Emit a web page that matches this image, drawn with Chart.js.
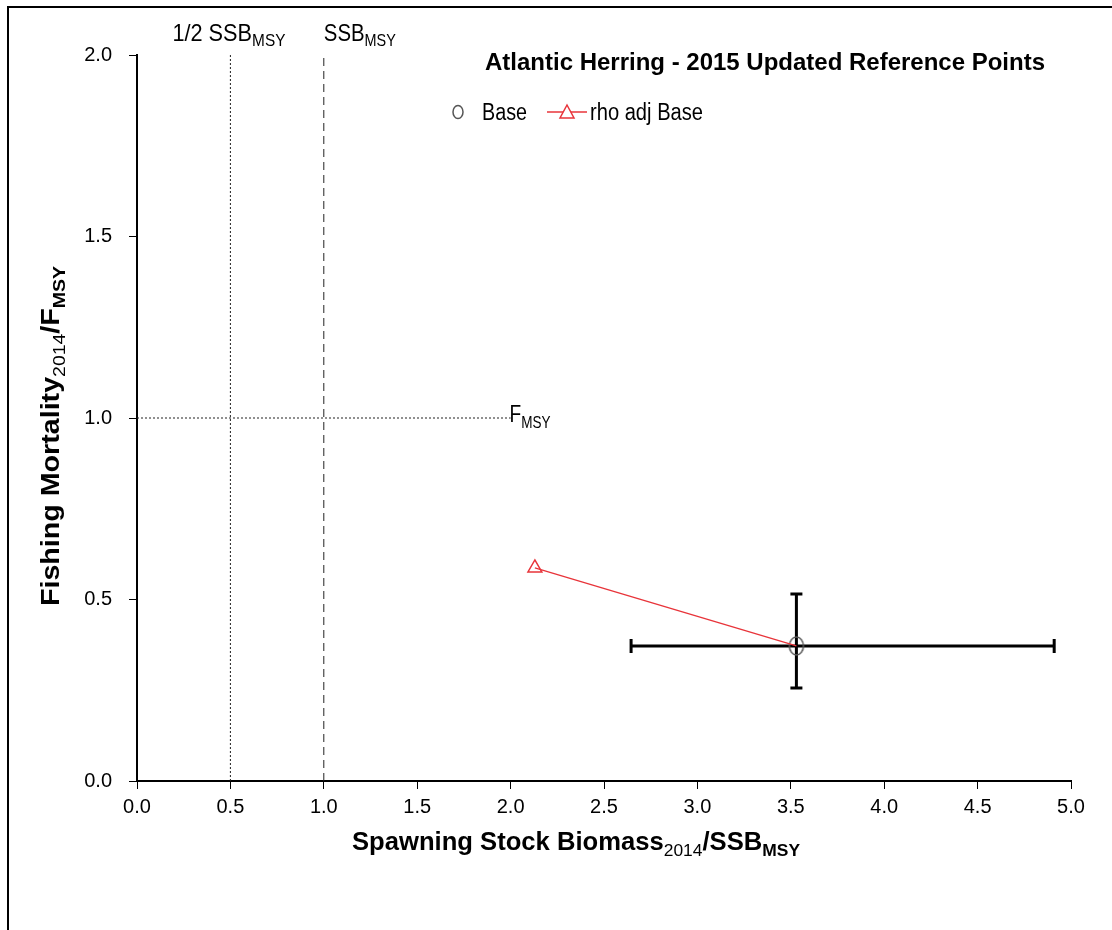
<!DOCTYPE html>
<html>
<head>
<meta charset="utf-8">
<script src="https://cdn.jsdelivr.net/npm/chart.js@4.4.0/dist/chart.umd.min.js"></script>
<style>
  html, body { margin: 0; padding: 0; background: #fff; }
  #wrap { width: 1112px; height: 930px; }
</style>
</head>
<body>
<div id="wrap"><canvas id="c" width="1112" height="930"></canvas></div>
<script>
// --- data ---
const baseSSB = [3.53];
const baseF = [0.372];
const baseSSBLow = [2.645];
const baseSSBHigh = [4.91];
const baseFLow = [0.256];
const baseFHigh = [0.515];
const rhoSSB = [2.13];
const rhoF = [0.587];

// reference points
const halfSSBmsy = 0.5;
const ssbMsy = 1.0;
const fMsy = 1.0;
const fMsyLineEnd = 2.0;

const xMin = 0, xMax = 5, xStep = 0.5;
const yMin = 0, yMax = 2, yStep = 0.5;

const FAM = "'Liberation Sans', Arial, sans-serif";
const RED = '#e8343a';

// text runs with subscripts, squeezed sideways to look like a narrow face
function richWidth(ctx, parts) {
  let w = 0;
  parts.forEach(p => { ctx.font = p.font; w += ctx.measureText(p.t).width; });
  return w;
}
function drawFit(ctx, parts, x, y, w) {
  const sx = w / richWidth(ctx, parts);
  ctx.save();
  ctx.translate(x, y);
  ctx.scale(sx, 1);
  let cx = 0;
  parts.forEach(p => {
    ctx.font = p.font;
    ctx.fillText(p.t, cx, p.dy || 0);
    cx += ctx.measureText(p.t).width;
  });
  ctx.restore();
}

// tall open ellipse used as the Base marker
function ellipseMarker(rx, ry) {
  const cv = document.createElement('canvas');
  cv.width = rx * 2 + 4; cv.height = ry * 2 + 4;
  const c = cv.getContext('2d');
  c.strokeStyle = '#555'; c.lineWidth = 1.5;
  c.beginPath(); c.ellipse(rx + 2, ry + 2, rx, ry, 0, 0, Math.PI * 2); c.stroke();
  return cv;
}

const errorBars = {
  id: 'errorBars',
  beforeDatasetsDraw(chart) {
    const { ctx, scales: { x, y } } = chart;
    ctx.save();
    ctx.strokeStyle = '#000';
    ctx.lineWidth = 3;
    baseSSB.forEach((v, i) => {
      const px = x.getPixelForValue(v), py = y.getPixelForValue(baseF[i]);
      const xl = x.getPixelForValue(baseSSBLow[i]), xr = x.getPixelForValue(baseSSBHigh[i]);
      const yt = y.getPixelForValue(baseFHigh[i]), yb = y.getPixelForValue(baseFLow[i]);
      ctx.beginPath();
      ctx.moveTo(xl, py); ctx.lineTo(xr, py);
      ctx.moveTo(xl, py - 7); ctx.lineTo(xl, py + 7);
      ctx.moveTo(xr, py - 7); ctx.lineTo(xr, py + 7);
      ctx.moveTo(px, yt); ctx.lineTo(px, yb);
      ctx.moveTo(px - 6, yt); ctx.lineTo(px + 6, yt);
      ctx.moveTo(px - 6, yb); ctx.lineTo(px + 6, yb);
      ctx.stroke();
    });
    ctx.restore();
  }
};

const decorations = {
  id: 'decorations',
  afterDraw(chart) {
    const { ctx, scales: { x, y } } = chart;
    ctx.save();
    ctx.fillStyle = '#000';
    ctx.textBaseline = 'alphabetic';
    ctx.textAlign = 'left';

    // outer frame (left and top edges visible)
    ctx.strokeStyle = '#000';
    ctx.lineWidth = 2;
    ctx.beginPath();
    ctx.moveTo(8, 935); ctx.lineTo(8, 7); ctx.lineTo(1120, 7);
    ctx.stroke();

    // reference line labels
    const reg = '24px ' + FAM, sub = '17px ' + FAM;
    const half = [{ t: '1/2 SSB', font: reg }, { t: 'MSY', font: sub, dy: 5 }];
    drawFit(ctx, half, x.getPixelForValue(halfSSBmsy) - 58, 41, 113);
    drawFit(ctx, [{ t: 'SSB', font: reg }, { t: 'MSY', font: sub, dy: 5 }], x.getPixelForValue(ssbMsy), 41, 72);
    drawFit(ctx, [{ t: 'F', font: reg }, { t: 'MSY', font: sub, dy: 6 }],
      x.getPixelForValue(fMsyLineEnd) - 1, y.getPixelForValue(fMsy) + 4, 41);

    // title
    drawFit(ctx, [{ t: 'Atlantic Herring - 2015 Updated Reference Points', font: 'bold 24px ' + FAM }], 485, 70, 560);

    // legend
    ctx.lineWidth = 1.5;
    ctx.strokeStyle = '#555';
    ctx.beginPath(); ctx.ellipse(458, 112, 5, 6.5, 0, 0, Math.PI * 2); ctx.stroke();
    drawFit(ctx, [{ t: 'Base', font: '23px ' + FAM }], 482, 120, 45);
    ctx.strokeStyle = RED;
    ctx.beginPath(); ctx.moveTo(547, 112); ctx.lineTo(587, 112); ctx.stroke();
    ctx.fillStyle = '#fff';
    ctx.beginPath(); ctx.moveTo(567, 105); ctx.lineTo(574, 118); ctx.lineTo(560, 118); ctx.closePath();
    ctx.fill(); ctx.stroke();
    ctx.fillStyle = '#000';
    drawFit(ctx, [{ t: 'rho adj Base', font: '23px ' + FAM }], 590, 120, 113);

    // x axis title
    const bold = 'bold 25px ' + FAM, bsub = '17px ' + FAM, bsubB = 'bold 17px ' + FAM;
    const xt = [{ t: 'Spawning Stock Biomass', font: bold }, { t: '2014', font: bsub, dy: 6 },
                { t: '/SSB', font: bold }, { t: 'MSY', font: bsubB, dy: 6 }];
    drawFit(ctx, xt, 352, 850, 448);

    // y axis title
    const yt = [{ t: 'Fishing Mortality', font: bold }, { t: '2014', font: bsub, dy: 6 },
                { t: '/F', font: bold }, { t: 'MSY', font: bsubB, dy: 6 }];
    ctx.translate(59, 0);
    ctx.rotate(-Math.PI / 2);
    drawFit(ctx, yt, -606, 0, 340);
    ctx.restore();
  }
};

const tickFont = { family: FAM, size: 20 };

new Chart(document.getElementById('c'), {
  type: 'scatter',
  data: {
    datasets: [
      {
        label: '1/2 SSBmsy',
        data: [{ x: halfSSBmsy, y: yMin }, { x: halfSSBmsy, y: yMax }],
        showLine: true, borderColor: '#222', borderWidth: 1, borderDash: [2, 2], pointRadius: 0
      },
      {
        label: 'SSBmsy',
        data: [{ x: ssbMsy, y: yMin }, { x: ssbMsy, y: yMax }],
        showLine: true, borderColor: '#222', borderWidth: 1, borderDash: [8, 5], pointRadius: 0
      },
      {
        label: 'Fmsy',
        data: [{ x: xMin, y: fMsy }, { x: fMsyLineEnd, y: fMsy }],
        showLine: true, borderColor: '#222', borderWidth: 1, borderDash: [2, 2], pointRadius: 0
      },
      {
        label: 'rho adj Base',
        data: [{ x: rhoSSB[0], y: rhoF[0] }, { x: baseSSB[0], y: baseF[0] }],
        showLine: true, borderColor: RED, borderWidth: 1.3,
        pointStyle: 'triangle', pointRadius: [8, 0], pointBorderColor: RED,
        pointBackgroundColor: 'rgba(255,255,255,0)', pointBorderWidth: 1.5
      },
      {
        label: 'Base',
        data: baseSSB.map((v, i) => ({ x: v, y: baseF[i] })),
        pointStyle: ellipseMarker(7, 9), pointRadius: 9
      }
    ]
  },
  options: {
    responsive: false,
    animation: false,
    devicePixelRatio: 1,
    layout: { padding: { top: 55, right: 41, left: 0, bottom: 0 } },
    plugins: { legend: { display: false }, title: { display: false }, tooltip: { enabled: false } },
    scales: {
      x: {
        type: 'linear', min: xMin, max: xMax,
        afterFit: s => { s.height = 149; },
        ticks: { stepSize: xStep, color: '#000', font: tickFont, padding: 6, callback: v => v.toFixed(1), maxRotation: 0 },
        grid: { drawOnChartArea: false, drawTicks: true, tickLength: 8, color: '#000', tickColor: '#000' },
        border: { color: '#000', width: 2 }
      },
      y: {
        type: 'linear', min: yMin, max: yMax,
        afterFit: s => { s.width = 137; },
        ticks: { stepSize: yStep, color: '#000', font: tickFont, padding: 17, callback: v => v.toFixed(1) },
        grid: { drawOnChartArea: false, drawTicks: true, tickLength: 8, color: '#000', tickColor: '#000' },
        border: { color: '#000', width: 2 }
      }
    }
  },
  plugins: [errorBars, decorations]
});
</script>
</body>
</html>
